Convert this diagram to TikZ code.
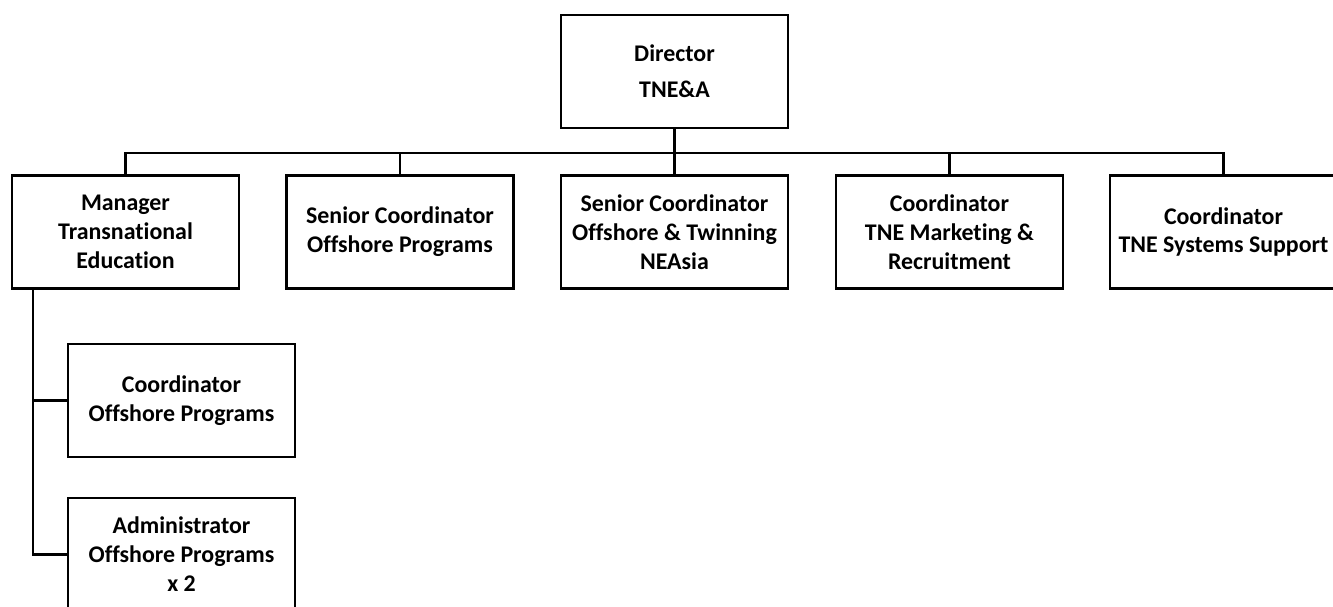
\documentclass[tikz,border=0pt]{standalone}
\usepackage{fontspec}
\setmainfont{Carlito}[RawFeature=-liga]
\usepackage{tikz}
\usetikzlibrary{positioning}

\begin{document}
\begin{tikzpicture}[
  x=0.02cm,y=-0.02cm,
  font=\fontsize{13.6}{16.5}\selectfont\bfseries,
  caja/.style={draw,line width=1.4pt,fill=white,minimum width=4.54cm,minimum height=2.26cm,align=center,inner sep=2pt},
  conn/.style={line width=1.4pt}
]
  \clip (0,0) rectangle (1333,607);
  \node[caja] (dir) at (674.5,71.5) {Director\\[4pt]TNE\&A};

  \node[caja] (mte) at (125.5,232) {Manager\\Transnational\\Education};
  \node[caja] (scop) at (400,232) {Senior Coordinator\\Offshore Programs};
  \node[caja] (scot) at (674.5,232) {Senior Coordinator\\Offshore \& Twinning\\NEAsia};
  \node[caja] (cmr) at (949.5,232) {Coordinator\\TNE Marketing \&\\Recruitment};
  \node[caja] (css) at (1223.5,232) {Coordinator\\TNE Systems Support};

  \node[caja] (cop) at (181.5,400.5) {Coordinator\\Offshore Programs};
  \node[caja] (adm) at (181.5,554.5) {Administrator\\Offshore Programs\\x 2};

  \foreach \n in {mte,scop,scot,cmr,css}
    \draw[conn] (dir.south) -- ++(0,24) -| (\n.north);
  \draw[conn] ([xshift=0.44cm]mte.south west) |- (cop.west);
  \draw[conn] ([xshift=0.44cm]mte.south west) |- (adm.west);
\end{tikzpicture}
\end{document}
